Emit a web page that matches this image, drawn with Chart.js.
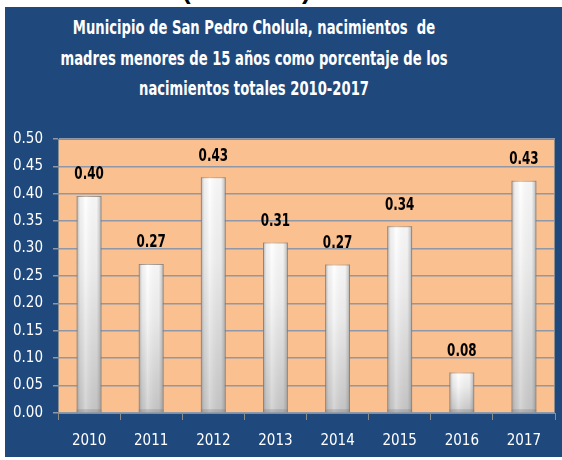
<!DOCTYPE html>
<html lang="es">
<head>
<meta charset="utf-8">
<script src="https://cdn.jsdelivr.net/npm/chart.js@4.4.1/dist/chart.umd.min.js"></script>
<style>
    html, body {
        margin: 0;
        padding: 0;
        background: #ffffff;
        width: 562px;
        height: 460px;
        overflow: hidden;
    }
    #panel {
        position: absolute;
        left: 5px;
        top: 7px;
        width: 557px;
        height: 450px;
        background: #1F497D;
    }
    #cut {
        position: absolute;
        left: 182px;
        top: -25px;
        font: bold 26px "Liberation Sans", Arial, sans-serif;
        color: #000;
        white-space: nowrap;
    }
    #title {
        position: absolute;
        left: 0;
        top: 12px;
        width: 508px;
        text-align: center;
        font: bold 19px "DejaVu Sans Condensed", sans-serif;
        line-height: 30.5px;
        color: #ffffff;
        white-space: nowrap;
        transform: scaleX(0.77);
        transform-origin: 254px 0;
    }
    #chart {
        position: absolute;
        left: 0;
        top: 0;
    }
</style>
</head>
<body>
<div id="cut">(Gráfica 1)</div>
<div id="panel"></div>
<div id="title">Municipio de San Pedro Cholula, nacimientos&nbsp; de<br>madres menores de 15 años como porcentaje de los<br>nacimientos totales 2010-2017</div>
<canvas id="chart" width="562" height="460"></canvas>

<script>
    // data
    const years = ['2010', '2011', '2012', '2013', '2014', '2015', '2016', '2017'];
    const shares = [0.396, 0.272, 0.430, 0.311, 0.271, 0.341, 0.074, 0.424];
    const shareLabels = ['0.40', '0.27', '0.43', '0.31', '0.27', '0.34', '0.08', '0.43'];

    const axisFont = '"DejaVu Sans Condensed", sans-serif';

    /* ==========================================
       Plot background + border
    ========================================== */

    const plotBackground = {
        id: 'plotBackground',
        beforeDraw: function (chart) {
            const area = chart.chartArea;
            const ctx = chart.ctx;
            ctx.save();
            ctx.fillStyle = '#FAC090';
            ctx.fillRect(area.left, area.top, area.right - area.left, area.bottom - area.top);
            ctx.restore();
        },
        afterDraw: function (chart) {
            const area = chart.chartArea;
            const ctx = chart.ctx;
            ctx.save();
            ctx.strokeStyle = '#8C8C8C';
            ctx.lineWidth = 1;
            ctx.strokeRect(area.left + 0.5, area.top + 0.5, area.right - area.left - 1, area.bottom - area.top);
            ctx.restore();
        }
    };

    /* ==========================================
       Bevel edges + value labels
    ========================================== */

    const barDecor = {
        id: 'barDecor',
        afterDatasetsDraw: function (chart) {
            const ctx = chart.ctx;
            const meta = chart.getDatasetMeta(0);
            meta.data.forEach(function (bar, i) {
                const half = bar.width / 2;
                const left = bar.x - half;
                const h = bar.base - bar.y;

                const shade = ctx.createLinearGradient(left, 0, left + bar.width, 0);
                shade.addColorStop(0, 'rgba(110,110,110,0.55)');
                shade.addColorStop(0.14, 'rgba(150,150,150,0.15)');
                shade.addColorStop(0.35, 'rgba(255,255,255,0.25)');
                shade.addColorStop(0.8, 'rgba(150,150,150,0.1)');
                shade.addColorStop(1, 'rgba(110,110,110,0.55)');

                ctx.save();
                ctx.fillStyle = shade;
                ctx.fillRect(left, bar.y, bar.width, h);
                ctx.fillStyle = 'rgba(120,120,120,0.3)';
                ctx.fillRect(left, bar.base - 3, bar.width, 3);

                // narrow bold label, squeezed like the original
                ctx.translate(bar.x, bar.y - 21);
                ctx.scale(0.78, 1);
                ctx.fillStyle = '#000000';
                ctx.font = 'bold 17px ' + axisFont;
                ctx.textAlign = 'center';
                ctx.textBaseline = 'middle';
                ctx.fillText(shareLabels[i], 0, 0);
                ctx.restore();
            });
        }
    };

    function barFill(context) {
        const chart = context.chart;
        if (!chart.chartArea) {
            return '#ffffff';
        }
        const yScale = chart.scales.y;
        const top = yScale.getPixelForValue(context.raw);
        const bottom = yScale.getPixelForValue(0);
        const grad = chart.ctx.createLinearGradient(0, top, 0, bottom);
        grad.addColorStop(0, '#FFFFFF');
        grad.addColorStop(0.35, '#F2F2F2');
        grad.addColorStop(1, '#C6C6C6');
        return grad;
    }

    new Chart(document.getElementById('chart'), {

        type: 'bar',

        data: {
            labels: years,
            datasets: [
                {
                    data: shares,
                    backgroundColor: barFill,
                    borderColor: 'rgba(140,140,140,0.8)',
                    borderWidth: 1,
                    borderSkipped: 'bottom',
                    categoryPercentage: 1,
                    barPercentage: 0.4
                }
            ]
        },

        options: {
            responsive: false,
            animation: false,
            layout: {
                padding: { left: 0, top: 139, right: 7, bottom: 0 }
            },
            plugins: {
                legend: { display: false },
                tooltip: { enabled: false }
            },
            scales: {
                x: {
                    afterFit: function (scale) {
                        scale.height = 47;
                    },
                    border: { display: true, color: '#8C8C8C' },
                    grid: {
                        offset: true,
                        drawOnChartArea: false,
                        drawTicks: true,
                        tickLength: 7,
                        color: '#8C8C8C'
                    },
                    ticks: {
                        color: '#ffffff',
                        padding: 12,
                        font: { family: axisFont, size: 15 }
                    }
                },
                y: {
                    min: 0,
                    max: 0.5,
                    afterFit: function (scale) {
                        scale.width = 58;
                    },
                    border: { display: true, color: '#8C8C8C' },
                    grid: {
                        color: '#8E98A8',
                        lineWidth: 1.5,
                        tickLength: 5
                    },
                    ticks: {
                        stepSize: 0.05,
                        color: '#ffffff',
                        padding: 10,
                        font: { family: axisFont, size: 15 },
                        callback: function (value) {
                            return Number(value).toFixed(2);
                        }
                    }
                }
            }
        },

        plugins: [plotBackground, barDecor]

    });
</script>
</body>
</html>
